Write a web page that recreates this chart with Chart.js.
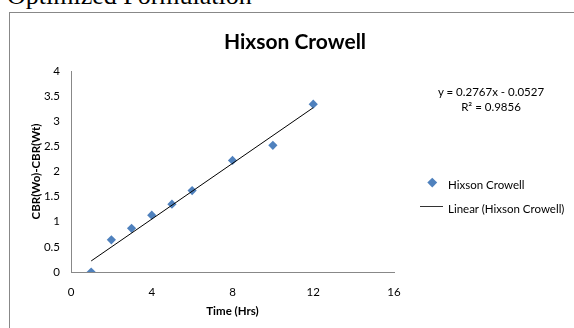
<!DOCTYPE html>
<html><head><meta charset="utf-8">
<script src="https://cdn.jsdelivr.net/npm/chart.js@4.4.1/dist/chart.umd.min.js"></script>
<style>
html,body{margin:0;padding:0;width:574px;height:328px;overflow:hidden;background:#fff;}
#caption{position:absolute;left:7px;top:-17px;font:26px/26px "Liberation Serif",serif;color:#000;white-space:nowrap;}
#frame{position:absolute;left:9px;top:12px;width:600px;height:400px;border:1px solid #888;box-sizing:border-box;}
#wrap{position:absolute;left:0;top:0;width:590px;height:328px;}
.t{position:absolute;font-family:Lato,sans-serif;font-size:11.5px;line-height:15px;color:#000;white-space:nowrap;}
#eq{left:431px;top:84px;width:120px;text-align:center;}
#dia{position:absolute;left:428.5px;top:178.5px;width:6.5px;height:6.5px;background:#4F81BD;transform:rotate(45deg);}
#lin{position:absolute;left:420px;top:206px;width:23px;height:1px;background:#333;}
</style></head>
<body>
<div id="caption">Optimized Formulation</div>
<div id="frame"></div>
<div id="wrap"><canvas id="c" width="590" height="328"></canvas></div>
<div class="t" id="eq">y = 0.2767x - 0.0527<br>R² = 0.9856</div>
<div id="dia"></div>
<div class="t" style="left:448px;top:176.5px;">Hixson Crowell</div>
<div id="lin"></div>
<div class="t" style="left:448px;top:200.5px;">Linear (Hixson Crowell)</div>
<script>
const seriesName = 'Hixson Crowell';
const xValues = [1, 2, 3, 4, 5, 6, 8, 10, 12];
const yValues = [0, 0.64, 0.87, 1.13, 1.35, 1.62, 2.22, 2.52, 3.34];
const trendX = [1, 12];
const trendY = [0.22, 3.27];
const xTicks = [0, 4, 8, 12, 16];
const xTickLabels = ['0', '4', '8', '12', '16'];
const yTicks = [0, 0.5, 1, 1.5, 2, 2.5, 3, 3.5, 4];
const yTickLabels = ['0', '0.5', '1', '1.5', '2', '2.5', '3', '3.5', '4'];

const pts = xValues.map((x, i) => ({x: x, y: yValues[i]}));
const trend = trendX.map((x, i) => ({x: x, y: trendY[i]}));
const F = 'Lato, sans-serif';

new Chart(document.getElementById('c'), {
  type: 'scatter',
  data: {
    datasets: [
      {label: 'Linear (' + seriesName + ')', data: trend, showLine: true, borderColor: '#000', borderWidth: 1, pointRadius: 0, fill: false},
      {label: seriesName, data: pts, pointStyle: 'rectRot', pointRadius: 4.6, backgroundColor: '#4F81BD', borderColor: '#4F81BD', borderWidth: 0}
    ]
  },
  options: {
    responsive: false,
    animation: false,
    devicePixelRatio: 1,
    layout: {padding: 0},
    plugins: {
      legend: {display: false},
      tooltip: {enabled: false},
      title: {display: true, text: 'Hixson Crowell', color: '#000',
        font: {family: F, size: 21, weight: 'bold', lineHeight: 1.2},
        padding: {top: 30, bottom: 15.8}}
    },
    scales: {
      x: {
        type: 'linear', position: 'bottom', min: 0, max: 16,
        afterBuildTicks: s => { s.ticks = xTicks.map(v => ({value: v})); },
        afterFit: s => { s.height = 56; },
        grid: {display: false, drawTicks: false},
        border: {display: true, color: '#888', width: 1},
        ticks: {padding: 13, color: '#000', font: {family: F, size: 11.5},
          callback: (v) => xTickLabels[xTicks.indexOf(v)]},
        title: {display: true, text: 'Time (Hrs)', color: '#000',
          font: {family: F, size: 11.5, weight: 'bold', lineHeight: 1.2},
          padding: {top: 0, bottom: 9.4}}
      },
      y: {
        type: 'linear', position: 'left', min: 0, max: 4,
        afterBuildTicks: s => { s.ticks = yTicks.map(v => ({value: v})); },
        afterFit: s => { s.width = 71; },
        grid: {display: false, drawTicks: false},
        border: {display: true, color: '#888', width: 1},
        ticks: {padding: 11, color: '#000', font: {family: F, size: 11.5},
          callback: (v) => yTickLabels[yTicks.indexOf(v)]},
        title: {display: true, text: 'CBR(Wo)-CBR(Wt)', color: '#000',
          font: {family: F, size: 11.5, weight: 'bold', lineHeight: 1.2},
          padding: {top: 29.8, bottom: 0}}
      },
      yRight: {
        type: 'linear', position: 'right', display: true, min: 0, max: 4,
        afterFit: s => { s.width = 196; },
        grid: {display: false, drawTicks: false},
        border: {display: false},
        ticks: {display: false}
      }
    }
  }
});
</script>
</body></html>
